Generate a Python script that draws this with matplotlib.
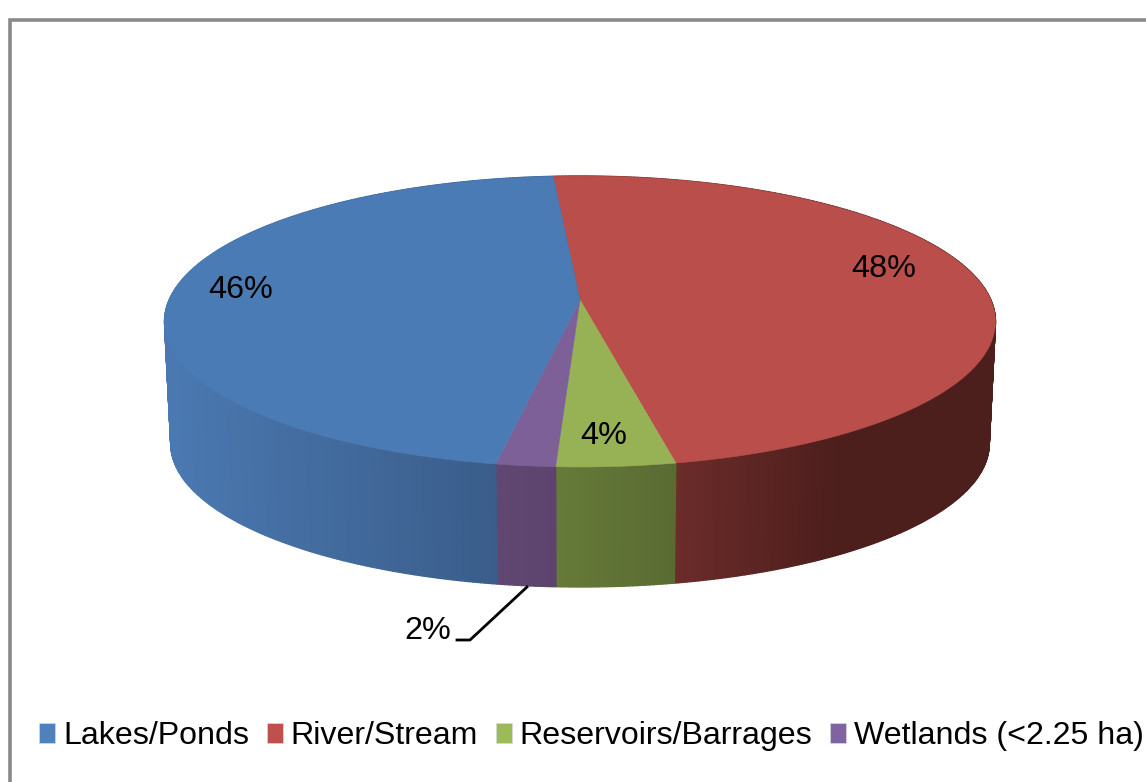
import numpy as np
import matplotlib
matplotlib.use("Agg")
import matplotlib.pyplot as plt
from matplotlib.colors import to_rgb
from matplotlib.patches import Patch

# chart data, clockwise from the back of the pie
categories = ["River/Stream", "Reservoirs/Barrages", "Wetlands (<2.25 ha)", "Lakes/Ponds"]
shares = [48, 4, 2, 46]
legend_order = ["Lakes/Ponds", "River/Stream", "Reservoirs/Barrages", "Wetlands (<2.25 ha)"]

top_colors = ["#b94e4b", "#97b155", "#7e6099", "#4a7bb5"]
legend_colors = {"Lakes/Ponds": "#4f81bd", "River/Stream": "#c0504d",
                 "Reservoirs/Barrages": "#9bbb59", "Wetlands (<2.25 ha)": "#8064a2"}
# side wall colour at left and right end of each slice, by screen x
side_shades = [("#6b2c2a", "#4c1e1c", 677, 840), ("#667a39", "#5a6b32", 557, 677),
               ("#5f4772", "#5c446e", 498, 557), ("#4a78b0", "#3a5d8a", 171, 498)]

plt.rcParams["font.family"] = ["Liberation Sans", "DejaVu Sans"]
FONT = 23.3
LEGEND_FONT = 23.1

# perspective of the pie on screen, in pixels
CX, CY = 580.0, 300.0
TILT = 0.1477
RX, RY = 410.9, 142.3
START = -4.3
BOTTOM_Y, BOTTOM_SCALE = 422.5, 0.985


def project(theta, y0=CY, scale=1.0):
    t = np.radians(theta)
    x, y = np.sin(t), -np.cos(t)
    w = 1 - TILT * y
    return CX + scale * RX * x / w, y0 + scale * RY * y / w


fig = plt.figure(figsize=(11.46, 7.82), dpi=100)
ax = fig.add_axes([0, 0, 1, 1])
ax.set_xlim(0, 1146)
ax.set_ylim(782, 0)
ax.axis("off")

# frame only shows on the left and top
ax.plot([10, 10, 1146], [782, 20, 20], color="#8a8a8a", lw=2.6, solid_joinstyle="miter")

edges = START + np.cumsum([0] + shares) * 3.6

# side wall, short strips so the shade can change along it
for i, share in enumerate(shares):
    c0, c1, x0, x1 = side_shades[i]
    c0, c1 = np.array(to_rgb(c0)), np.array(to_rgb(c1))
    n = max(int((edges[i + 1] - edges[i]) * 2), 2)
    angles = np.linspace(edges[i], edges[i + 1], n + 1)
    for a, b in zip(angles[:-1], angles[1:]):
        xa, ya = project(a)
        xb, yb = project(b)
        xc, yc = project(b, BOTTOM_Y, BOTTOM_SCALE)
        xd, yd = project(a, BOTTOM_Y, BOTTOM_SCALE)
        f = np.clip(((xa + xb) / 2 - x0) / (x1 - x0), 0, 1)
        col = c0 + (c1 - c0) * f
        ax.fill([xa, xb, xc, xd], [ya, yb, yc, yd], color=col, lw=1.0, zorder=2)

# top face
for i, share in enumerate(shares):
    angles = np.linspace(edges[i], edges[i + 1], 200)
    xs, ys = project(angles)
    ax.fill(np.r_[CX, xs], np.r_[CY, ys], color=top_colors[i], lw=0.4, zorder=3)

# value labels
label_pos = [(884, 269), (604, 436), (428, 631), (241, 290)]
for share, (lx, ly) in zip(shares, label_pos):
    ax.text(lx, ly, f"{share}%", fontsize=FONT, ha="center", va="center", color="black", zorder=5)

# leader line for the small slice
ax.plot([527, 470, 457], [587, 640, 640], color="black", lw=2.0, zorder=5)

handles = [Patch(facecolor=legend_colors[c], edgecolor="#d8d8e0", lw=0.5, label=c) for c in legend_order]
ax.legend(handles=handles, ncol=4, frameon=False, fontsize=LEGEND_FONT, loc="center left",
          bbox_to_anchor=(39 / 1146, 1 - 736 / 782), borderpad=0, borderaxespad=0,
          handlelength=0.5, handleheight=0.6, handletextpad=0.25, columnspacing=0.55)

fig.savefig("out.png", dpi=100)
